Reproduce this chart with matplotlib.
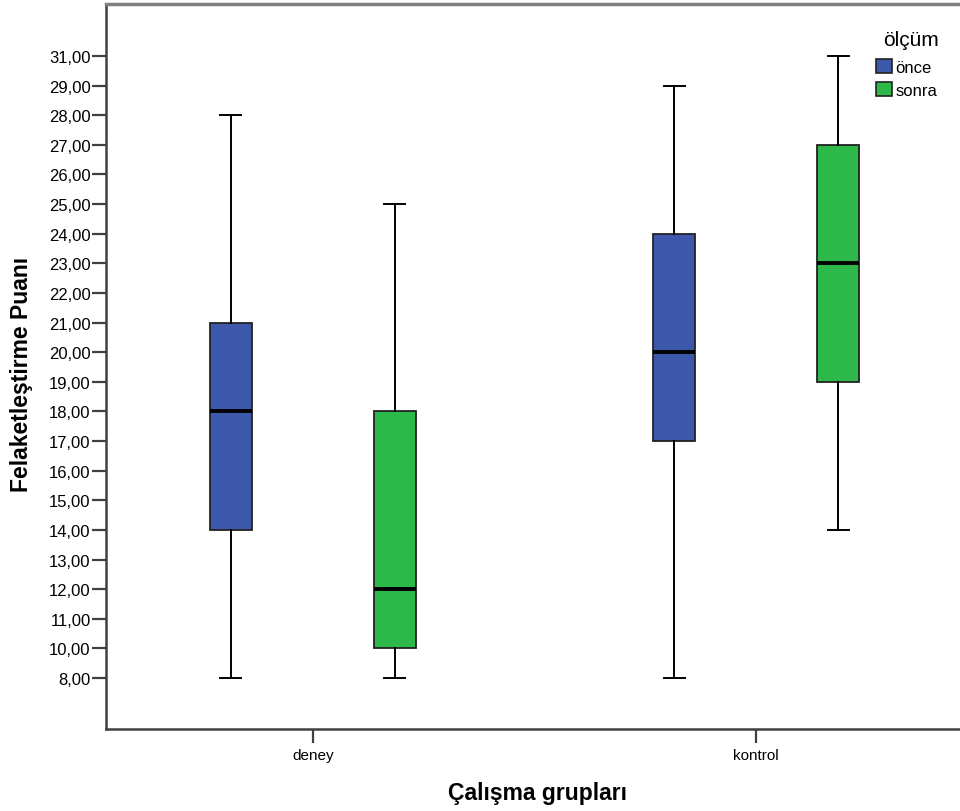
import numpy as np
import matplotlib
matplotlib.use("Agg")
import matplotlib.pyplot as plt
from matplotlib.patches import Patch

# data
groups = ["deney", "kontrol"]
measures = ["önce", "sonra"]
# [group][measure]
whislo = [[8, 8], [8, 14]]
q1 = [[14, 10], [17, 19]]
med = [[18, 12], [20, 23]]
q3 = [[21, 18], [24, 27]]
whishi = [[28, 25], [29, 31]]

# SPSS put ticks only at observed values, evenly spaced
ytick_vals = [8] + list(range(10, 30)) + [31]
ytick_labels = ["%d,00" % v for v in ytick_vals]

colors = ["#3d57aa", "#2db84a"]

plt.rcParams["font.family"] = ["Arial", "Liberation Sans", "DejaVu Sans"]

idx = np.arange(len(ytick_vals), dtype=float)
tv = np.array(ytick_vals, dtype=float)


def fwd(v):
    v = np.asarray(v, dtype=float)
    out = np.interp(v, tv, idx)
    out = np.where(v < tv[0], (v - tv[0]) / 2.0, out)
    out = np.where(v > tv[-1], idx[-1] + (v - tv[-1]) / 2.0, out)
    return out


def inv(i):
    i = np.asarray(i, dtype=float)
    out = np.interp(i, idx, tv)
    out = np.where(i < 0, tv[0] + i * 2.0, out)
    out = np.where(i > idx[-1], tv[-1] + (i - idx[-1]) * 2.0, out)
    return out


fig = plt.figure(figsize=(9.6, 8.12), dpi=100)
W, H = 960, 812
ax = fig.add_axes([106 / W, (H - 730) / H, (963 - 106) / W, (730 - 5) / H])
ax.set_yscale("function", functions=(fwd, inv))

offset = 0.185
bw = 0.095
for g in range(len(groups)):
    for m in range(len(measures)):
        st = [{"whislo": whislo[g][m], "q1": q1[g][m], "med": med[g][m],
               "q3": q3[g][m], "whishi": whishi[g][m], "fliers": []}]
        pos = g + (offset if m else -offset)
        ax.bxp(st, positions=[pos], widths=bw, patch_artist=True,
               showfliers=False, manage_ticks=False,
               boxprops=dict(facecolor=colors[m], edgecolor="#222222", linewidth=1.3),
               medianprops=dict(color="black", linewidth=2.8),
               whiskerprops=dict(color="black", linewidth=1.4),
               capprops=dict(color="black", linewidth=1.4),
               capwidths=bw / 2)

ax.set_xlim(-0.466, 1.466)
ax.set_ylim(inv(-1.72), inv(idx[-1] + 1.756))
ax.set_xticks(range(len(groups)))
ax.set_xticklabels(groups, fontsize=11)
ax.set_yticks(ytick_vals)
ax.set_yticklabels(ytick_labels, fontsize=12)
ax.yaxis.set_minor_locator(matplotlib.ticker.NullLocator())
ax.tick_params(axis="y", length=10, width=1.6, color="#404040", pad=1)
ax.tick_params(axis="x", length=10, width=1.6, color="#404040", pad=4)

for s in ["left", "bottom"]:
    ax.spines[s].set_color("#404040")
    ax.spines[s].set_linewidth(1.8)
ax.spines["top"].set_color("#808080")
ax.spines["top"].set_linewidth(2.5)
ax.spines["right"].set_visible(False)

fig.text(22 / W, 1 - 374 / H, "Felaketleştirme Puanı", rotation=90,
         ha="center", va="center", fontsize=16.5, fontweight="bold")
fig.text(537 / W, 1 - 794 / H, "Çalışma grupları",
         ha="center", va="center", fontsize=16.5, fontweight="bold")

# legend title placed separately for exact spacing
fig.text(911 / W, 1 - 40 / H, "ölçüm", ha="center", va="center", fontsize=15)
handles = [Patch(facecolor=colors[i], edgecolor="#222222", linewidth=1.2,
                 label=measures[i]) for i in range(len(measures))]
leg = fig.legend(handles=handles, loc="upper left",
                 bbox_to_anchor=(876 / W, 1 - 60 / H), frameon=False,
                 fontsize=12, handlelength=0.95,
                 handleheight=0.95, handletextpad=0.2, labelspacing=0.4,
                 borderaxespad=0, borderpad=0)

fig.savefig("out.png", dpi=100)
